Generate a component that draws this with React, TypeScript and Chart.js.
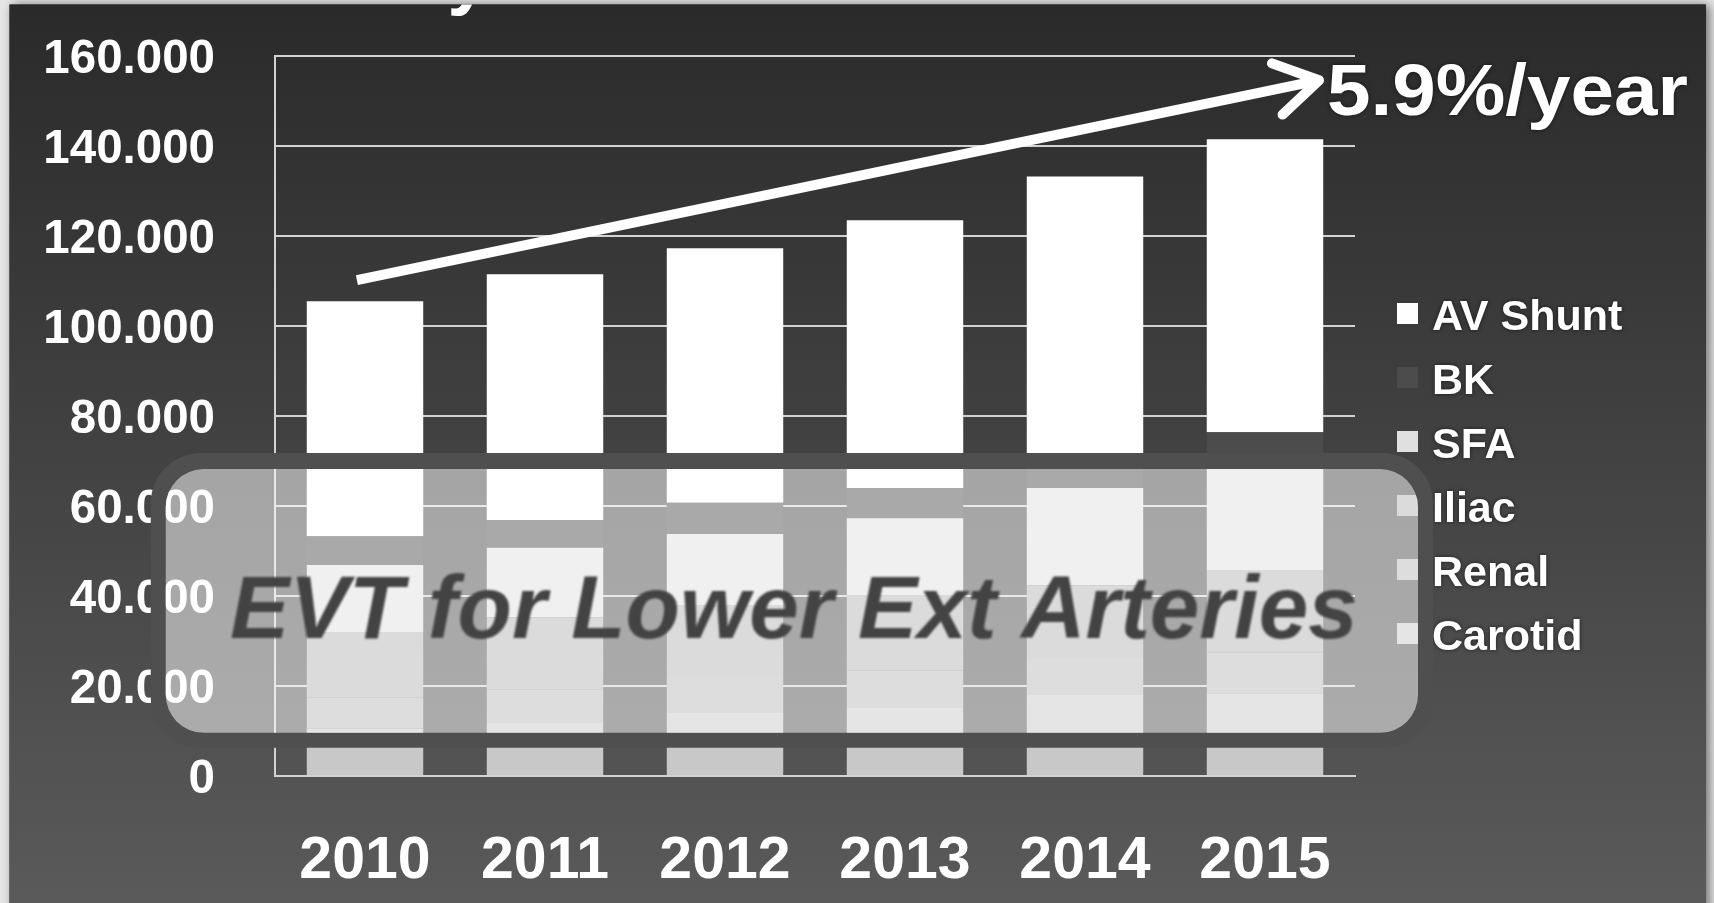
import React, { useEffect, useRef } from 'react';
import { Chart, registerables } from 'chart.js';

Chart.register(...registerables);

// ---------- data ----------
const YEARS = ['2010', '2011', '2012', '2013', '2014', '2015'];
// stack order bottom -> top
const CAROTID = [10500, 11800, 14000, 15100, 18000, 18400];
const RENAL = [7000, 7500, 8000, 8300, 8200, 9000];
const ILIAC = [14500, 16000, 16000, 16800, 16200, 18400];
const SFA = [14900, 15400, 15800, 17100, 21600, 23200];
const BK = [6400, 6200, 6900, 6700, 6000, 7400];
const AV_SHUNT = [52200, 54600, 56600, 59500, 63200, 65100];

const SERIES_NAMES = ['Carotid', 'Renal', 'Iliac', 'SFA', 'BK', 'AV Shunt'];
const SERIES_VALUES = [CAROTID, RENAL, ILIAC, SFA, BK, AV_SHUNT];
const SERIES_COLORS = ['#c8c8c8', '#b9b9b9', '#b3b3b3', '#e0e0e0', '#4c4c4c', '#ffffff'];

const Y_TICKS = [0, 20000, 40000, 60000, 80000, 100000, 120000, 140000, 160000];
const Y_TICK_LABELS = ['0', '20.000', '40.000', '60.000', '80.000', '100.000', '120.000', '140.000', '160.000'];

const OVERLAY_TITLE = 'EVT for Lower Ext Arteries';
const RATE_LABEL = '5.9%/year';
// arrow in data coordinates: [category index, value]
const ARROW_FROM = [-0.045, 110200];
const ARROW_TO = [5.3, 154600];
// overlay box in data coordinates
const BOX_INDEX = [-1.107, 5.85];
const BOX_VALUE = [9600, 68200];

const FONT = '"Liberation Sans", Arial, sans-serif';

function roundRectPath(ctx: CanvasRenderingContext2D, x: number, y: number, w: number, h: number, r: number) {
  ctx.moveTo(x + r, y);
  ctx.lineTo(x + w - r, y);
  ctx.arcTo(x + w, y, x + w, y + r, r);
  ctx.lineTo(x + w, y + h - r);
  ctx.arcTo(x + w, y + h, x + w - r, y + h, r);
  ctx.lineTo(x + r, y + h);
  ctx.arcTo(x, y + h, x, y + h - r, r);
  ctx.lineTo(x, y + r);
  ctx.arcTo(x, y, x + r, y, r);
  ctx.closePath();
}

const backgroundPlugin = {
  id: 'pageBackground',
  beforeDraw(chart: any) {
    const ctx = chart.ctx as CanvasRenderingContext2D;
    const W = chart.width, H = chart.height;
    ctx.save();
    ctx.fillStyle = '#e6e6e6';
    ctx.fillRect(0, 0, W, H);
    const px = 9.5, py = 4.5, pw = 1706 - 9.5, ph = H - 4.5;
    ctx.shadowColor = 'rgba(0,0,0,0.55)';
    ctx.shadowBlur = 10;
    ctx.shadowOffsetX = 3;
    ctx.fillStyle = '#3a3a3a';
    ctx.fillRect(px, py, pw, ph + 20);
    ctx.shadowColor = 'transparent';
    const g = ctx.createLinearGradient(0, py, 0, H);
    g.addColorStop(0, '#2a2a2a');
    g.addColorStop(0.5, '#424242');
    g.addColorStop(1, '#5a5a5a');
    ctx.fillStyle = g;
    ctx.fillRect(px, py, pw, ph + 20);
    // cut-off title descender at the top
    ctx.beginPath();
    ctx.rect(px, py, pw, ph);
    ctx.clip();
    ctx.fillStyle = '#ffffff';
    ctx.font = `bold 74px ${FONT}`;
    ctx.textAlign = 'center';
    ctx.textBaseline = 'alphabetic';
    ctx.fillText('y', 468, 1);
    ctx.restore();
  },
};

const decorPlugin = {
  id: 'decor',
  afterDraw(chart: any) {
    const ctx = chart.ctx as CanvasRenderingContext2D;
    const xs = chart.scales.x;
    const ys = chart.scales.y;
    const area = chart.chartArea;

    // ---- legend (reverse of stack order) ----
    ctx.save();
    ctx.textAlign = 'left';
    ctx.textBaseline = 'alphabetic';
    ctx.font = `bold 43px ${FONT}`;
    const ds = chart.data.datasets;
    for (let i = 0; i < ds.length; i++) {
      const d = ds[ds.length - 1 - i];
      const base = area.top + 274 + i * 64;
      ctx.shadowColor = 'transparent';
      ctx.fillStyle = d.backgroundColor;
      ctx.fillRect(area.right + 42, base - 27, 21, 21);
      ctx.shadowColor = 'rgba(0,0,0,0.6)';
      ctx.shadowBlur = 4;
      ctx.fillStyle = '#ffffff';
      ctx.fillText(d.label, area.right + 77, base);
    }
    ctx.restore();

    // ---- overlay box ----
    const bx0 = xs.getPixelForValue(BOX_INDEX[0]);
    const bx1 = xs.getPixelForValue(BOX_INDEX[1]);
    const by0 = ys.getPixelForValue(BOX_VALUE[1]);
    const by1 = ys.getPixelForValue(BOX_VALUE[0]);
    const ring = 15;
    ctx.save();
    ctx.beginPath();
    roundRectPath(ctx, bx0 - ring, by0 - ring - 1, bx1 - bx0 + 2 * ring, by1 - by0 + 2 * ring + 1, 50);
    roundRectPath(ctx, bx0, by0, bx1 - bx0, by1 - by0, 38);
    ctx.fillStyle = '#4f4f4f';
    ctx.fill('evenodd');
    ctx.beginPath();
    roundRectPath(ctx, bx0, by0, bx1 - bx0, by1 - by0, 38);
    ctx.fillStyle = 'rgba(255,255,255,0.52)';
    ctx.fill();
    // overlay title
    ctx.font = `italic bold 89px ${FONT}`;
    ctx.textAlign = 'center';
    ctx.textBaseline = 'alphabetic';
    ctx.fillStyle = '#434343';
    (ctx as any).filter = 'blur(1px)';
    ctx.fillText(OVERLAY_TITLE, (bx0 + bx1) / 2 + 2, (by0 + by1) / 2 + 37);
    ctx.restore();

    // ---- arrow ----
    const x0 = xs.getPixelForValue(ARROW_FROM[0]);
    const y0 = ys.getPixelForValue(ARROW_FROM[1]);
    const x1 = xs.getPixelForValue(ARROW_TO[0]);
    const y1 = ys.getPixelForValue(ARROW_TO[1]);
    const ang = Math.atan2(y1 - y0, x1 - x0);
    ctx.save();
    ctx.strokeStyle = '#ffffff';
    ctx.lineWidth = 10;
    ctx.lineCap = 'butt';
    ctx.beginPath();
    ctx.moveTo(x0, y0);
    ctx.lineTo(x1 - 4 * Math.cos(ang), y1 - 4 * Math.sin(ang));
    ctx.stroke();
    const L = 50, spread = 0.55;
    ctx.lineCap = 'round';
    ctx.lineJoin = 'round';
    ctx.beginPath();
    ctx.moveTo(x1 - L * Math.cos(ang - spread), y1 - L * Math.sin(ang - spread));
    ctx.lineTo(x1, y1);
    ctx.lineTo(x1 - L * Math.cos(ang + spread), y1 - L * Math.sin(ang + spread));
    ctx.stroke();

    // rate label
    ctx.font = `bold 72px ${FONT}`;
    ctx.textAlign = 'left';
    ctx.textBaseline = 'alphabetic';
    const w = ctx.measureText(RATE_LABEL).width;
    ctx.translate(x1 + 8, y1 + 35);
    ctx.scale(361 / w, 1);
    ctx.shadowColor = 'rgba(0,0,0,0.6)';
    ctx.shadowBlur = 4;
    ctx.fillStyle = '#ffffff';
    ctx.fillText(RATE_LABEL, 0, 0);
    ctx.restore();
  },
};

export default function App() {
  const ref = useRef<HTMLCanvasElement | null>(null);

  useEffect(() => {
    document.body.style.margin = '0';
    const canvas = ref.current;
    if (!canvas) return;
    const gridColor = '#d2d2d2';
    const chart = new Chart(canvas, {
      type: 'bar',
      data: {
        labels: YEARS,
        datasets: SERIES_NAMES.map((name, i) => ({
          label: name,
          data: SERIES_VALUES[i],
          backgroundColor: SERIES_COLORS[i],
          borderWidth: 0,
          categoryPercentage: 1,
          barPercentage: 0.647,
        })),
      },
      options: {
        responsive: false,
        animation: false,
        devicePixelRatio: 1,
        layout: { padding: { top: 56, right: 359, bottom: 0, left: 0 } },
        plugins: {
          legend: { display: false },
          tooltip: { enabled: false },
          title: { display: false },
        },
        scales: {
          x: {
            stacked: true,
            grid: { display: false, drawTicks: false },
            border: { display: true, color: gridColor, width: 2 },
            ticks: {
              color: '#ffffff',
              font: { family: FONT, size: 59, weight: 'bold' },
              padding: 50,
              maxRotation: 0,
              autoSkip: false,
            },
            afterFit: (s: any) => {
              s.height = 127;
              s.paddingLeft = 0;
              s.paddingRight = 0;
            },
          },
          y: {
            stacked: true,
            min: 0,
            max: 160000,
            afterBuildTicks: (s: any) => {
              s.ticks = Y_TICKS.map((v) => ({ value: v }));
            },
            ticks: {
              color: '#ffffff',
              font: { family: FONT, size: 47.5, weight: 'bold' },
              padding: 60,
              labelOffset: 4,
              callback: (v: any) => {
                const i = Y_TICKS.indexOf(Number(v));
                return i >= 0 ? Y_TICK_LABELS[i] : '';
              },
            },
            grid: { color: gridColor, lineWidth: 2, drawTicks: false },
            border: { display: true, color: gridColor, width: 2 },
            afterFit: (s: any) => {
              s.width = 275;
              s.paddingTop = 0;
              s.paddingBottom = 0;
            },
          },
        },
      } as any,
      plugins: [backgroundPlugin, decorPlugin],
    });
    return () => chart.destroy();
  }, []);

  return <canvas ref={ref} width={1714} height={903} style={{ display: 'block' }} />;
}
